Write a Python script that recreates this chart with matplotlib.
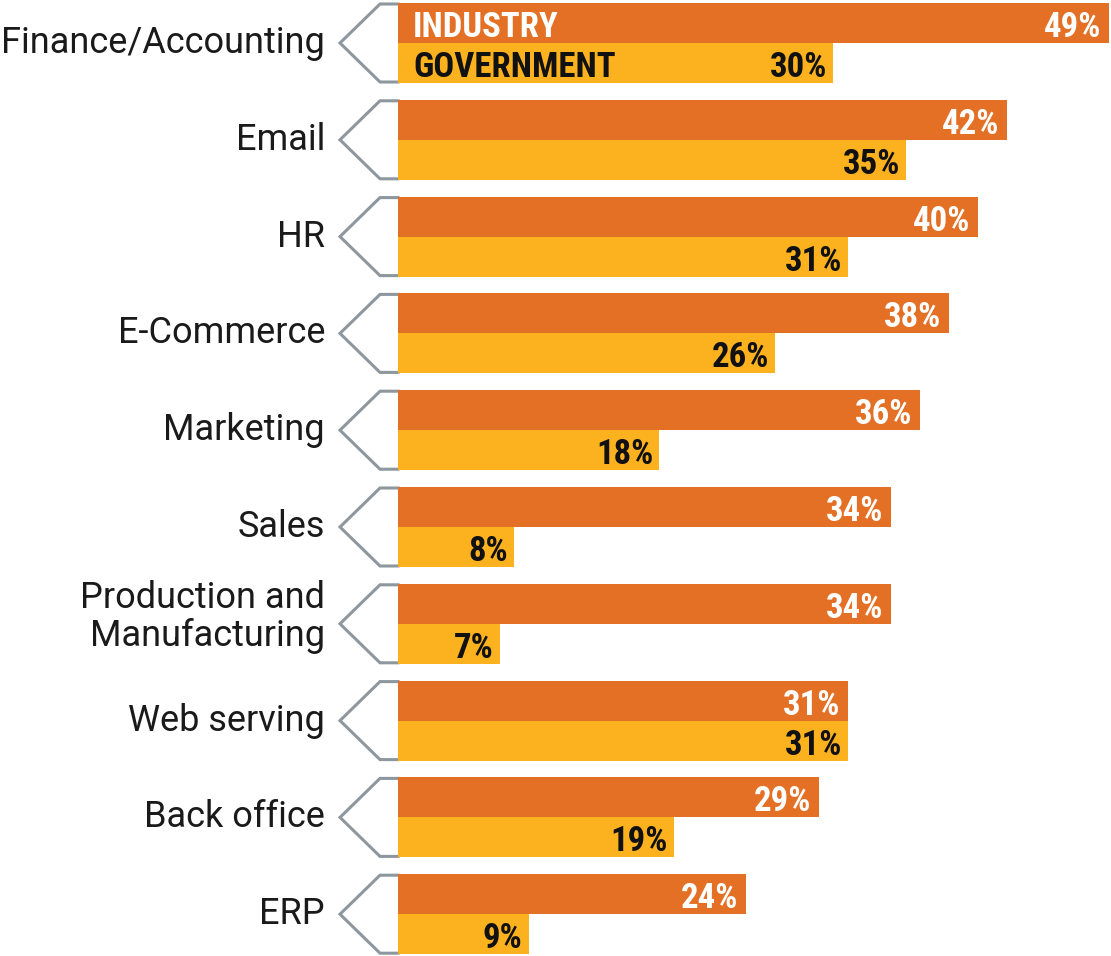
import matplotlib
matplotlib.use("Agg")
import matplotlib.pyplot as plt

categories = ["Finance/Accounting", "Email", "HR", "E-Commerce", "Marketing", "Sales",
              "Production and\nManufacturing", "Web serving", "Back office", "ERP"]
industry = [49, 42, 40, 38, 36, 34, 34, 31, 29, 24]
government = [30, 35, 31, 26, 18, 8, 7, 31, 19, 9]
series_names = ["INDUSTRY", "GOVERNMENT"]

orange = "#E47025"
yellow = "#FCB21E"
outline = "#8E979E"
label_font = ["Roboto", "DejaVu Sans"]
value_font = ["Roboto Condensed", "DejaVu Sans"]

W, H = 1111, 956
fig = plt.figure(figsize=(W / 100, H / 100), dpi=100)
ax = fig.add_axes([0, 0, 1, 1])

# x in percent, y in pixel rows from the top
px_per_pct = 14.51
x0 = 398
ax.set_xlim(-x0 / px_per_pct, (W - x0) / px_per_pct)
ax.set_ylim(H, 0)
ax.axis("off")

pitch = 96.8
top0 = 3
bar_h = 40

def px(dx):
    return dx / px_per_pct

for i, cat in enumerate(categories):
    top = top0 + i * pitch
    mid = top + bar_h
    bot = top + 2 * bar_h
    # left-pointing tag behind each group
    ax.plot([0, px(-18), px(-58), px(-18), 0], [top + 1, top + 1, mid, bot - 1, bot - 1],
            color=outline, lw=2.2, solid_joinstyle="miter", zorder=1)
    ax.barh(top + bar_h / 2, industry[i], height=bar_h, color=orange, zorder=2)
    ax.barh(top + 1.5 * bar_h, government[i], height=bar_h, color=yellow, zorder=2)
    # baseline of the last line of the label
    base = top + 50 if "\n" not in cat else top + 62
    ax.text(px(-73), base, cat, ha="right", va="baseline", fontsize=26,
            family=label_font, color="#1A1A1A", linespacing=1.08)
    ax.text(industry[i] - px(8), top + 34, f"{industry[i]}%", ha="right",
            va="baseline", fontsize=25, fontweight="bold", family=value_font,
            color="white", zorder=3)
    ax.text(government[i] - px(6), top + bar_h + 34, f"{government[i]}%", ha="right",
            va="baseline", fontsize=25, fontweight="bold", family=value_font,
            color="#111111", zorder=3)

ax.text(px(15), top0 + 34, series_names[0], ha="left", va="baseline",
        fontsize=25, fontweight="bold", family=value_font, color="white", zorder=3)
ax.text(px(15), top0 + bar_h + 34, series_names[1], ha="left", va="baseline",
        fontsize=25, fontweight="bold", family=value_font, color="#111111", zorder=3)

fig.savefig("out.png", dpi=100, facecolor="white")
